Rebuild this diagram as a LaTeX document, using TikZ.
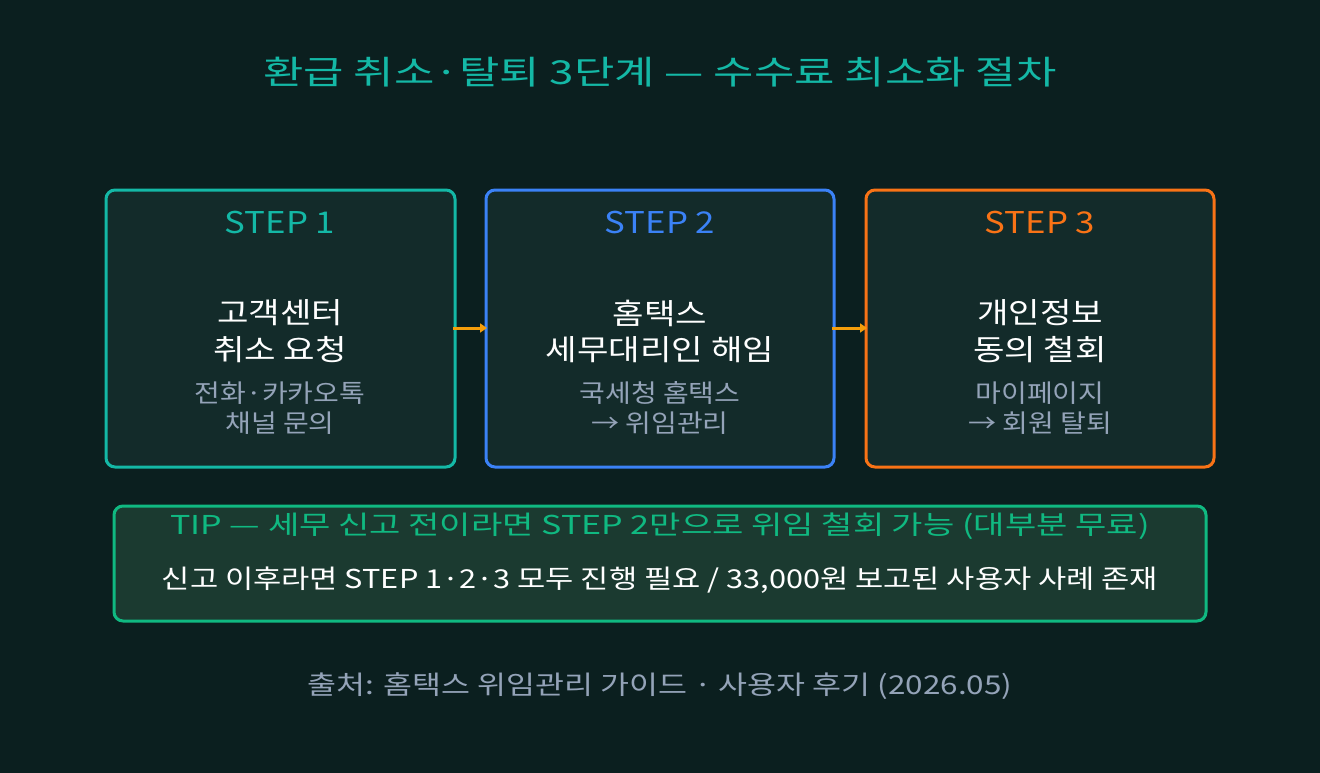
\documentclass[tikz,border=0pt]{standalone}
\usepackage{fontspec}
\setmainfont{Noto Sans CJK KR}
\usetikzlibrary{arrows.meta}
\definecolor{bg}{HTML}{0B1F1F}
\definecolor{boxfill}{HTML}{132B2A}
\definecolor{teal}{HTML}{14B8A6}
\definecolor{blu}{HTML}{3B82F6}
\definecolor{org}{HTML}{F97316}
\definecolor{amb}{HTML}{F59E0B}
\definecolor{grn}{HTML}{10B981}
\definecolor{tipfill}{HTML}{1B3A30}
\definecolor{gry}{HTML}{94A3B8}
\newcommand{\wx}[2]{\scalebox{#1}[1]{#2}}
\begin{document}
\begin{tikzpicture}[x=1pt,y=-1pt,
  stepbox/.style={draw,line width=3pt,rounded corners=9pt,fill=boxfill},
  txt/.style={inner sep=0pt,anchor=center},
  conn/.style={draw=amb,line width=3pt,-{Triangle[length=7pt,width=9pt]}}]
\fill[bg] (0,0) rectangle (1320,773);
\useasboundingbox (0,0) rectangle (1320,773);
\node[txt,text=teal,font=\fontsize{33}{40}\selectfont] (title) at (660,72) {\wx{1.33}{환급 취소·탈퇴 3단계 — 수수료 최소화 절차}};
\path[stepbox,draw=teal] (106,190) rectangle (455,467);
\path[stepbox,draw=blu] (486,190) rectangle (834,467);
\path[stepbox,draw=org] (866,190) rectangle (1214,467);
\coordinate (b1r) at (453,328); \coordinate (b2l) at (487,328);
\coordinate (b2r) at (832,328); \coordinate (b3l) at (867,328);
\draw[conn] (b1r) -- (b2l);
\draw[conn] (b2r) -- (b3l);
\foreach \x/\c/\n/\a/\b/\s/\t in {
 280/teal/1/고객센터/취소 요청/전화·카카오톡/채널 문의,
 660/blu/2/홈택스/세무대리인 해임/국세청 홈택스/→ 위임관리,
 1040/org/3/개인정보/동의 철회/마이페이지/→ 회원 탈퇴}{
 \node[txt,text=\c,font=\fontsize{30}{36}\selectfont] (s\n) at (\x,223) {\wx{1.16}{STEP \n}};
 \node[txt,text=white,font=\fontsize{29}{34}\selectfont] (m\n) at (\x,313) {\wx{1.18}{\a}};
 \node[txt,text=white,font=\fontsize{29}{34}\selectfont] (n\n) at (\x,350) {\wx{1.18}{\b}};
 \node[txt,text=gry,font=\fontsize{25}{30}\selectfont] (p\n) at (\x,393) {\wx{1.12}{\s}};
 \node[txt,text=gry,font=\fontsize{25}{30}\selectfont] (q\n) at (\x,423) {\wx{1.12}{\t}};
}
\path[draw=grn,line width=3pt,rounded corners=9pt,fill=tipfill] (114,506) rectangle (1206,621);
\node[txt,text=grn,font=\fontsize{26}{31}\selectfont] (tip1) at (660,526) {\wx{1.31}{TIP — 세무 신고 전이라면 STEP 2만으로 위임 철회 가능 (대부분 무료)}};
\node[txt,text=white,font=\fontsize{26}{31}\selectfont] (tip2) at (660,580) {\wx{1.18}{신고 이후라면 STEP 1·2·3 모두 진행 필요 / 33,000원 보고된 사용자 사례 존재}};
\node[txt,text=gry,font=\fontsize{26}{31}\selectfont] (src) at (660,686) {\wx{1.21}{출처: 홈택스 위임관리 가이드 · 사용자 후기 (2026.05)}};
\end{tikzpicture}
\end{document}
